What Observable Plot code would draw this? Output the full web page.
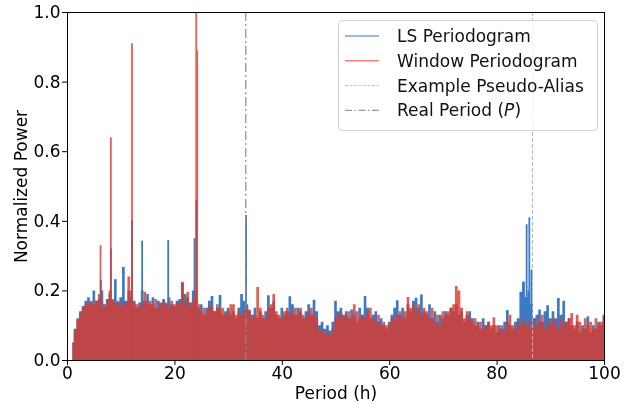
<!DOCTYPE html>
<html><head><meta charset="utf-8">
<script src="https://cdn.jsdelivr.net/npm/d3@7"></script>
<script src="https://cdn.jsdelivr.net/npm/@observablehq/plot@0.6"></script>
<style>
body{margin:0;background:#fff}
svg{font-family:"DejaVu Sans",sans-serif}
</style>
</head><body><div id="chart"></div>
<script>
// Period grid of the periodogram envelope (hours)
const periodStart = 1.0;
const periodStep = 0.5;

// LS periodogram envelope, periods 1.0 .. 100.0 every 0.5 h
const lsPower = [
  0.05,0.09,0.12,0.14,0.155,0.17,0.18,0.165,0.2,0.17, 0.175,0.2,0.16,0.175,0.19,0.17,0.232,0.165,0.18,0.267,
  0.17,0.2,0.18,0.17,0.15,0.165,0.2,0.17,0.19,0.16, 0.18,0.15,0.17,0.165,0.175,0.16,0.18,0.16,0.155,0.17,
  0.175,0.222,0.19,0.18,0.165,0.2,0.19,0.15,0.16,0.13, 0.15,0.17,0.184,0.14,0.15,0.187,0.13,0.14,0.15,0.13,
  0.14,0.12,0.15,0.19,0.17,0.16,0.14,0.13,0.15,0.12, 0.14,0.12,0.14,0.186,0.15,0.17,0.13,0.12,0.15,0.13,
  0.14,0.183,0.16,0.13,0.15,0.14,0.12,0.14,0.16,0.13, 0.173,0.14,0.1,0.11,0.09,0.1,0.085,0.11,0.17,0.14,
  0.15,0.13,0.14,0.12,0.145,0.13,0.11,0.15,0.13,0.184, 0.15,0.12,0.13,0.14,0.11,0.12,0.1,0.09,0.11,0.13,
  0.15,0.172,0.13,0.15,0.12,0.16,0.14,0.17,0.179,0.15, 0.188,0.14,0.13,0.16,0.12,0.14,0.11,0.13,0.12,0.14,
  0.13,0.15,0.14,0.16,0.13,0.14,0.11,0.13,0.14,0.12, 0.1,0.11,0.09,0.12,0.1,0.11,0.09,0.1,0.08,0.1,
  0.09,0.11,0.144,0.1,0.09,0.11,0.12,0.196,0.225,0.18, 0.2,0.16,0.12,0.13,0.145,0.11,0.14,0.157,0.12,0.14,
  0.12,0.178,0.13,0.17,0.11,0.12,0.1,0.09,0.11,0.08, 0.1,0.09,0.126,0.08,0.1,0.09,0.11,0.1,0.13
];

// Window periodogram envelope, same grid
const windowPower = [
  0.05,0.085,0.115,0.135,0.15,0.16,0.165,0.17,0.16,0.17, 0.19,0.165,0.15,0.17,0.2,0.175,0.16,0.17,0.155,0.16,
  0.165,0.24,0.2,0.165,0.16,0.15,0.165,0.196,0.165,0.17, 0.16,0.175,0.15,0.16,0.17,0.165,0.15,0.17,0.16,0.165,
  0.16,0.225,0.17,0.196,0.155,0.17,0.2,0.16,0.14,0.15, 0.135,0.155,0.15,0.14,0.16,0.145,0.15,0.13,0.14,0.16,
  0.16,0.13,0.14,0.13,0.14,0.15,0.145,0.12,0.13,0.21, 0.15,0.13,0.12,0.15,0.16,0.19,0.14,0.13,0.12,0.14,
  0.15,0.13,0.14,0.15,0.13,0.15,0.13,0.12,0.14,0.15, 0.13,0.12,0.085,0.09,0.075,0.08,0.07,0.09,0.12,0.13,
  0.14,0.12,0.13,0.14,0.12,0.16,0.14,0.12,0.13,0.12, 0.14,0.15,0.12,0.11,0.13,0.1,0.11,0.1,0.1,0.12,
  0.12,0.13,0.14,0.12,0.14,0.181,0.15,0.16,0.14,0.16, 0.13,0.15,0.14,0.12,0.15,0.11,0.13,0.1,0.14,0.13,
  0.14,0.15,0.16,0.213,0.2,0.15,0.12,0.14,0.12,0.11, 0.12,0.1,0.11,0.09,0.1,0.11,0.1,0.123,0.1,0.09,
  0.1,0.08,0.11,0.13,0.1,0.09,0.11,0.1,0.12,0.1, 0.11,0.09,0.12,0.1,0.11,0.13,0.09,0.11,0.1,0.12,
  0.11,0.09,0.12,0.1,0.11,0.12,0.135,0.1,0.13,0.11, 0.09,0.12,0.1,0.11,0.09,0.12,0.1,0.11,0.125
];

// Narrow peaks
const lsSpikePeriods = [6.2, 8.07, 12.02, 13.9, 18.75, 23.65, 24.0, 33.25, 84.95, 85.5, 86.0, 86.4];
const lsSpikePowers  = [0.23, 0.32, 0.40, 0.343, 0.345, 0.35, 0.46, 0.417, 0.225, 0.39, 0.41, 0.26];
const windowSpikePeriods = [6.15, 8.07, 12.02, 23.98, 24.15];
const windowSpikePowers  = [0.33, 0.64, 0.91, 1.0, 0.89];

// Reference periods
const realPeriod = 33.2;
const aliasPeriod = 86.6;

const xTicks = [0, 20, 40, 60, 80, 100];
const yTicks = [0, 0.2, 0.4, 0.6, 0.8, 1.0];
const xLabel = "Period (h)";
const yLabel = "Normalized Power";
const legendLabels = ["LS Periodogram", "Window Periodogram", "Example Pseudo-Alias", "Real Period ("];

const blue = "#3b7bc6";
const red = "#dc3a2c";

const lsTable = lsPower.map((v, i) => ({period: periodStart + i * periodStep, power: v}));
const winTable = windowPower.map((v, i) => ({period: periodStart + i * periodStep, power: v}));
const lsSpikes = lsSpikePeriods.map((p, i) => ({period: p, power: lsSpikePowers[i]}));
const winSpikes = windowSpikePeriods.map((p, i) => ({period: p, power: windowSpikePowers[i]}));

const chart = Plot.plot({
  width: 643, height: 404,
  marginLeft: 67, marginRight: 39, marginTop: 12, marginBottom: 44,
  style: {fontFamily: "DejaVu Sans, sans-serif", fontSize: "17px", background: "white", color: "black"},
  x: {domain: [0, 100]},
  y: {domain: [0, 1]},
  marks: [
    Plot.areaY(lsTable, {x: "period", y: "power", curve: "step", fill: blue}),
    Plot.ruleX(lsSpikes, {x: "period", y1: 0, y2: "power", stroke: blue, strokeWidth: 1.8}),
    Plot.areaY(winTable, {x: "period", y: "power", curve: "step", fill: red}),
    Plot.ruleX(winSpikes, {x: "period", y1: 0, y2: "power", stroke: red, strokeWidth: 1.8}),
    Plot.ruleX([aliasPeriod], {stroke: "#b5b5b5", strokeWidth: 1, strokeDasharray: "4,2"}),
    Plot.ruleX([realPeriod], {stroke: "#8a8a8a", strokeWidth: 1.2, strokeDasharray: "9,3,2,3"}),
    Plot.frame({stroke: "black", strokeWidth: 1}),
    Plot.axisX({ticks: xTicks, tickSize: 5, tickPadding: 1, label: null}),
    Plot.axisY({ticks: yTicks, tickSize: 5, tickPadding: 2, tickFormat: d3.format(".1f"), label: null}),
    Plot.text([xLabel], {frameAnchor: "bottom", lineAnchor: "middle", textAnchor: "middle", dy: 33, fontSize: 17}),
    Plot.text([yLabel], {frameAnchor: "left", lineAnchor: "middle", textAnchor: "middle", rotate: -90, dx: -46, fontSize: 17})
  ]
});

document.getElementById("chart").appendChild(chart);

// Group the window periodogram marks under one semi-transparent layer
const svgNode = chart.tagName.toLowerCase() === "svg" ? chart : chart.querySelector("svg");
const svg = d3.select(svgNode);
const winGroups = Array.from(svgNode.children).filter(n =>
  n.getAttribute("fill") === red || n.getAttribute("stroke") === red);
if (winGroups.length) {
  const layer = document.createElementNS("http://www.w3.org/2000/svg", "g");
  layer.setAttribute("opacity", 0.82);
  winGroups[0].parentNode.insertBefore(layer, winGroups[0]);
  winGroups.forEach(n => layer.appendChild(n));
}

// Legend
const legend = svg.append("g")
  .attr("font-family", "DejaVu Sans, sans-serif").attr("font-size", 17).attr("text-anchor", "start");
legend.append("rect")
  .attr("x", 338.5).attr("y", 20.5).attr("width", 259).attr("height", 110).attr("rx", 4)
  .attr("fill", "white").attr("fill-opacity", 0.8).attr("stroke", "#d0d0d0");
const legendStyles = [
  {stroke: "#79a5dc", dash: null, w: 1.5},
  {stroke: "#ee8476", dash: null, w: 1.5},
  {stroke: "#c4c4c4", dash: "3,1.5", w: 1},
  {stroke: "#9a9a9a", dash: "7,2.5,1.5,2.5", w: 1.2}
];
legendLabels.forEach((lab, i) => {
  const cy = 36 + i * 24.8;
  const s = legendStyles[i];
  const ln = legend.append("line").attr("x1", 345).attr("x2", 379).attr("y1", cy).attr("y2", cy)
    .attr("stroke", s.stroke).attr("stroke-width", s.w);
  if (s.dash) ln.attr("stroke-dasharray", s.dash);
  const t = legend.append("text").attr("x", 397).attr("y", cy).attr("dy", "0.35em")
    .attr("fill", "#111").attr("text-anchor", "start").text(lab);
  if (i === 3) {
    t.append("tspan").attr("font-style", "italic").text("P");
    t.append("tspan").text(")");
  }
});
</script>
</body></html>
